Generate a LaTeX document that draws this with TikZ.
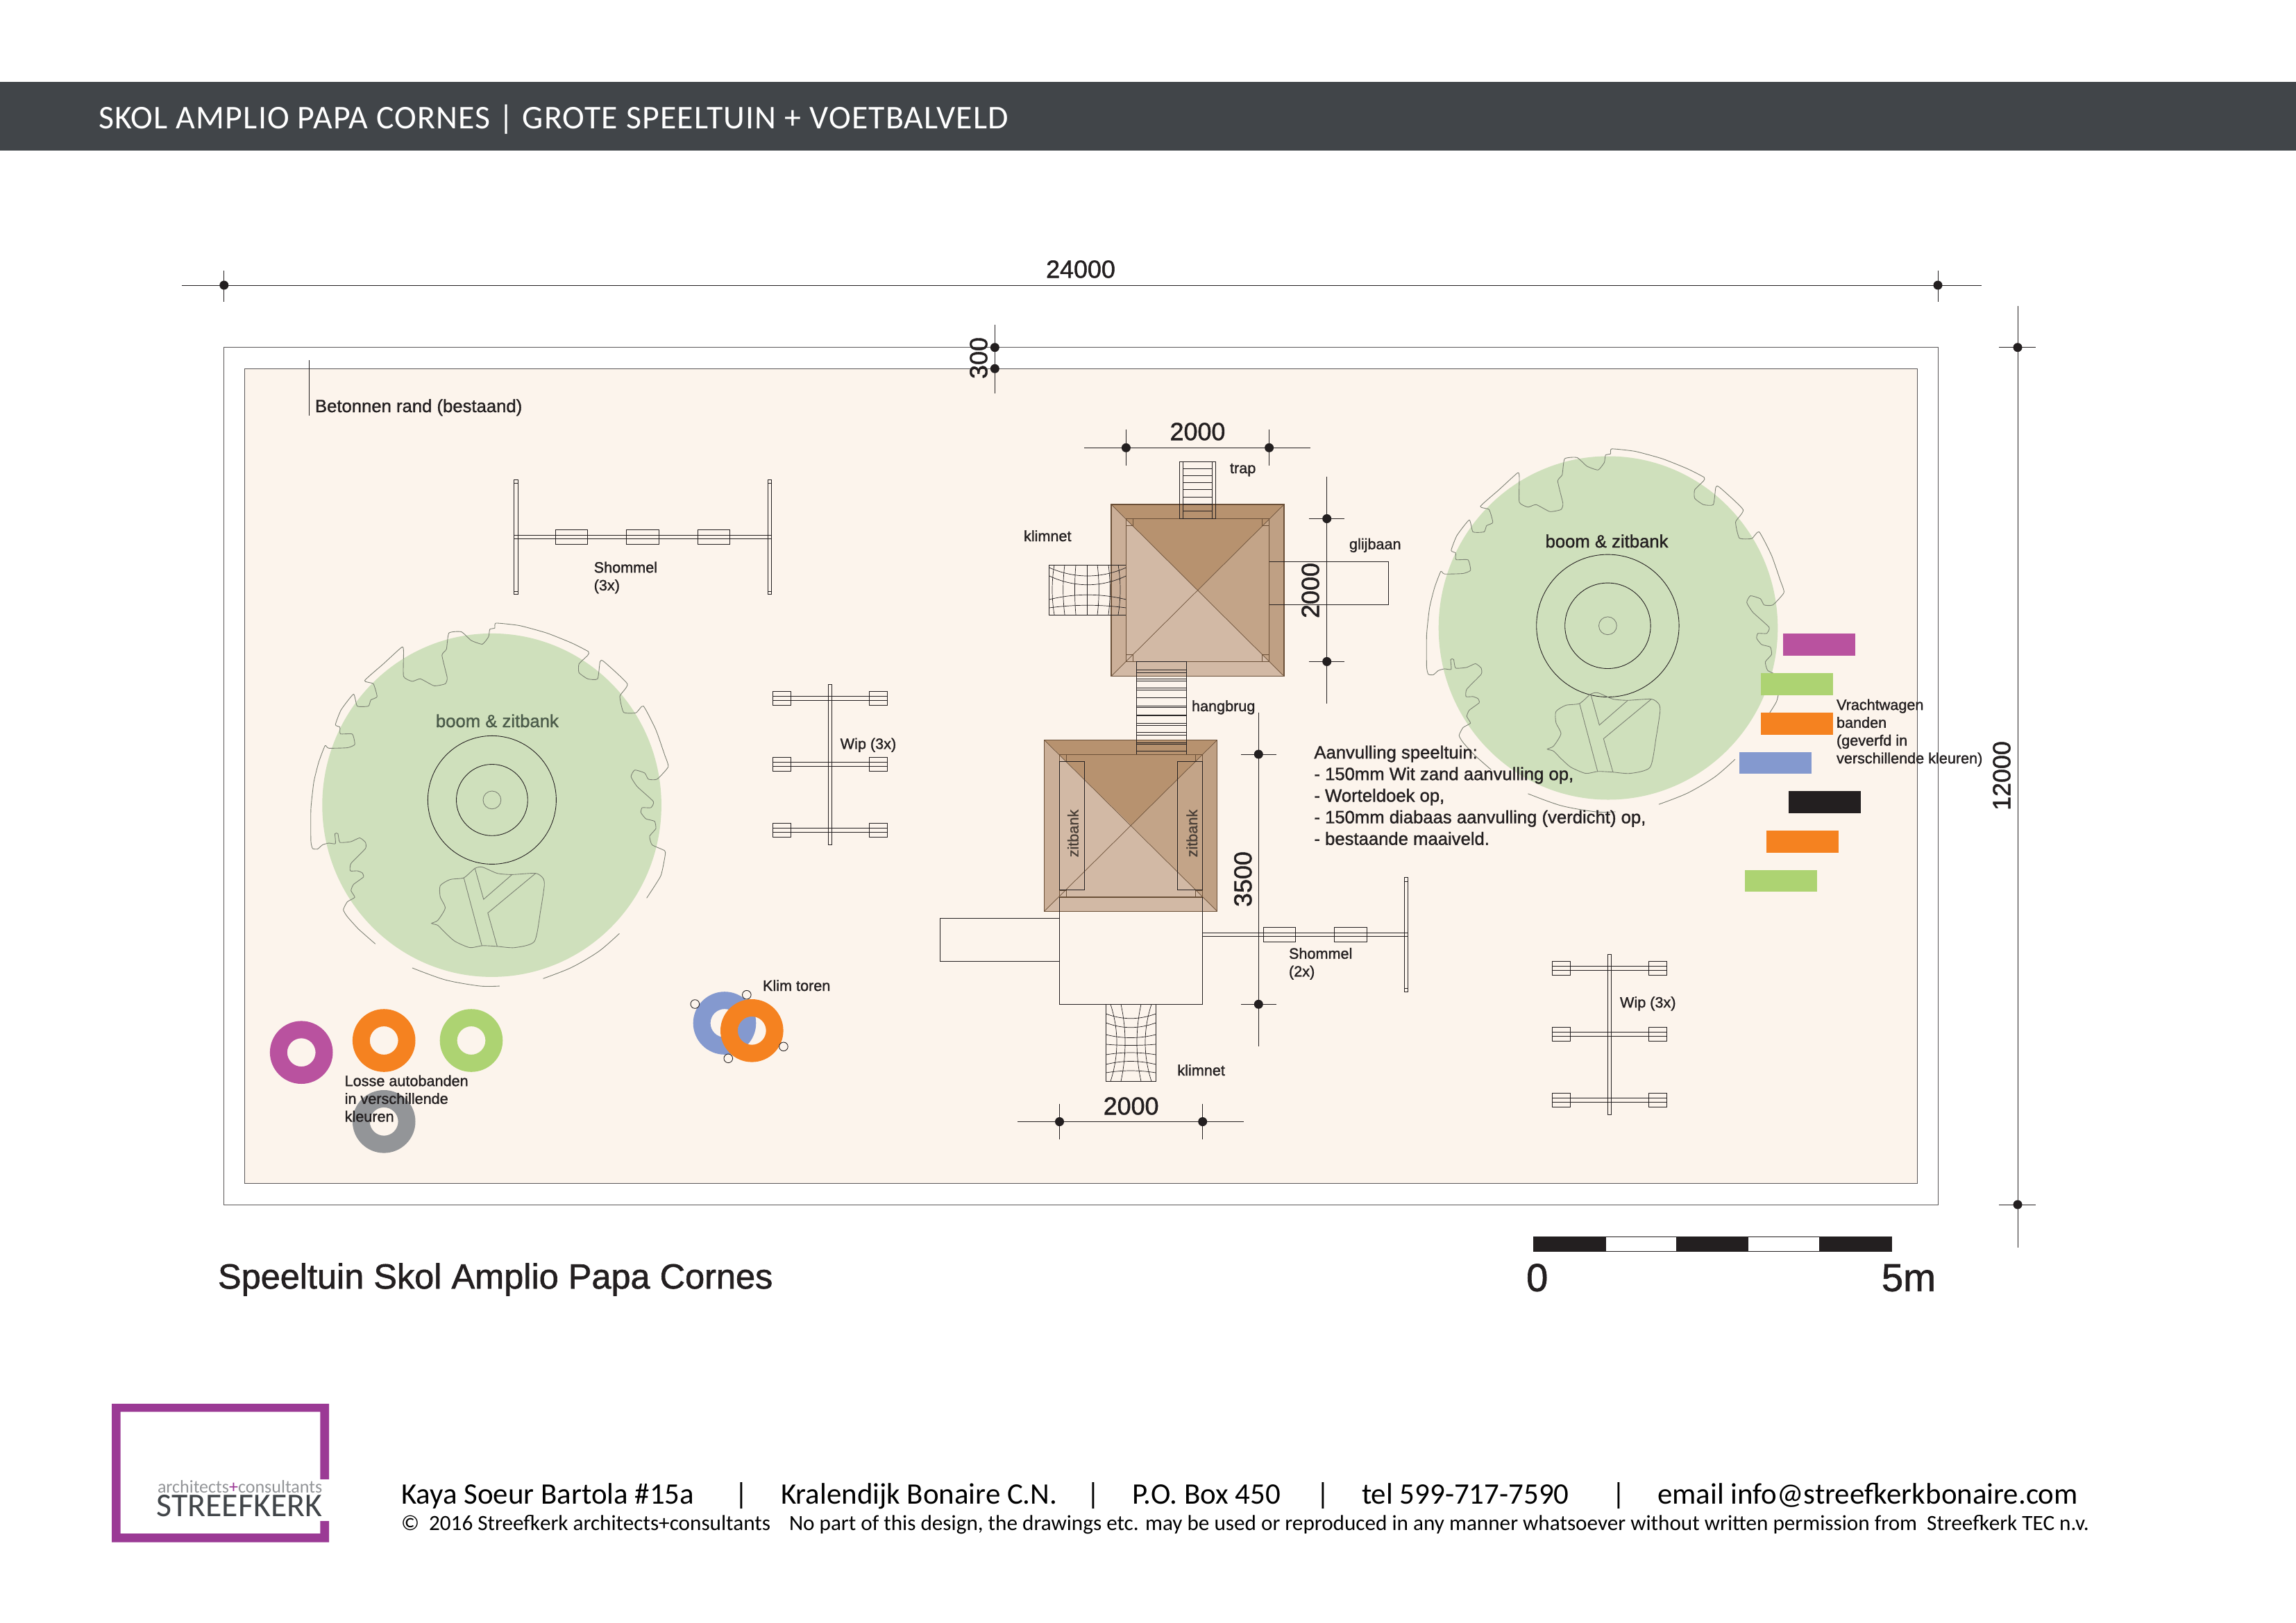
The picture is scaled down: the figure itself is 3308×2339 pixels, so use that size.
\documentclass[tikz,border=0pt]{standalone}
\usepackage{fontspec}
\setmainfont[FakeBold=1.2]{Liberation Sans}
\newfontfamily\calibrifont{Carlito}
\definecolor{balk}{HTML}{414549}
\definecolor{zand}{HTML}{FCF4EC}
\definecolor{gras}{HTML}{CFE0BC}
\definecolor{lijn}{HTML}{231F20}
\definecolor{contour}{HTML}{7B8073}
\definecolor{dakrand}{HTML}{6B5038}
\definecolor{dakdonker}{HTML}{B7926F}
\definecolor{dakmidden}{HTML}{C3A488}
\definecolor{dakrechts}{HTML}{BFA084}
\definecolor{daklicht}{HTML}{D2B9A5}
\definecolor{daklinks}{HTML}{CBAF98}
\definecolor{paars}{HTML}{B9529F}
\definecolor{oranje}{HTML}{F58220}
\definecolor{groen}{HTML}{ADD372}
\definecolor{grijs}{HTML}{939598}
\definecolor{blauw}{HTML}{8499CF}
\definecolor{logopaars}{HTML}{9B3A95}
\tikzset{
	dun/.style={draw=lijn,line width=.25pt},
	rand/.style={draw=lijn!75,line width=.2pt},
	kaal/.style={inner sep=0pt,outer sep=0pt},
	label/.style={kaal,anchor=base west,text=lijn,font=\fontsize{6.15}{7.3}\selectfont},
	maat/.style={kaal,text=lijn,font=\fontsize{10.2}{12}\selectfont},
	staand/.style={maat,rotate=90},
	voet/.style={kaal,anchor=base west,text=black,font=\calibrifont\fontsize{12.2}{14}\selectfont},
	klein/.style={kaal,anchor=base west,text=black,font=\calibrifont\fontsize{8.87}{10}\selectfont},
}
\newcommand{\boomvorm}[6]{
	\fill[gras] (#3,#4) ellipse (244.3 and 247.5);
	\draw[dun] (#1,#2) circle (#5) (#1,#2) circle (#6);
	\draw[contour,line width=.25pt] (#1,#2) circle (12.9);
	\begin{scope}[shift={(#1,#2)},scale=.357,shift={(-809,-764)},draw=contour,line width=.25pt]
		\draw plot[smooth,tension=.3] coordinates {(338,1345) (270,1285) (225,1235) (209,1207) (225,1175) (255,1157) (240,1130) (250,1105) (290,1075) (285,1058) (265,1050) (237,1050) (240,1020) (298,960) (298,935) (275,917) (240,932) (195,935) (187,900) (175,900) (177,940) (150,938) (125,945) (105,962) (85,960) (78,930) (78,800) (90,690) (110,610) (135,545) (150,555) (225,553) (255,540) (245,498) (197,497) (195,470) (177,460) (200,400) (250,337) (265,385) (310,385) (320,360) (345,347) (330,295) (295,282) (370,215) (445,147) (452,165) (452,265) (487,285) (520,275) (575,303) (620,295) (628,270) (607,180) (625,155) (635,90) (685,85) (725,120) (770,135) (795,105) (800,75) (820,70) (825,50) (920,60) (1030,90) (1130,130) (1198,165) (1195,180) (1160,215) (1160,250) (1195,275) (1235,275) (1245,205) (1260,205) (1355,295) (1325,345) (1340,410) (1390,412) (1420,385) (1470,480) (1505,580) (1520,630) (1475,680) (1440,680) (1425,655) (1385,643) (1370,670) (1395,710) (1460,770) (1450,795) (1415,795) (1410,815) (1430,840) (1465,850) (1470,880) (1445,910) (1455,945) (1505,968) (1508,985) (1490,1070) (1433,1160)};
		\draw plot[smooth] coordinates {(1323,1303) (1240,1375) (1130,1440) (1015,1485)};
		\draw plot[smooth] coordinates {(840,1515) (760,1515) (620,1490) (487,1442)};
		\draw plot[smooth cycle,tension=.4] coordinates {(565,1262) (590,1250) (620,1200) (600,1155) (600,1110) (640,1085) (695,1078) (740,1040) (770,1035) (830,1060) (890,1065) (985,1060) (1015,1080) (1020,1110) (1005,1210) (980,1335) (900,1360) (830,1355) (770,1352) (720,1360) (660,1335) (620,1300) (590,1270)};
		\draw (695,1078)--(768,1352) (740,1040)--(775,1165)--(890,1065) (985,1060)--(792,1220)--(830,1355);
	\end{scope}
}
\newcommand{\wiptoestel}[2]{
	\begin{scope}[shift={(#1,#2)}]
		\foreach \y in {0,95,190} {
			\draw[dun] (1113.3,996.3+\y) rectangle (1139.7,1016.3+\y);
			\draw[dun] (1252.3,996.3+\y) rectangle (1278.3,1016.3+\y);
			\draw[dun] (1113.3,1003.6+\y)--(1278.3,1003.6+\y) (1113.3,1009+\y)--(1278.3,1009+\y);
		}
		\draw[dun] (1193.3,986.3) rectangle (1198.7,1217.3);
	\end{scope}
}
\begin{document}
\begin{tikzpicture}[x=.01cm,y=-.01cm]
	\useasboundingbox (0,0) rectangle (3308,2339);
	\fill[white] (0,0) rectangle (3308,2339);
	\fill[balk] (0,118) rectangle (3308,217);
	\node[kaal,anchor=base west,text=white,font=\calibrifont\fontsize{13.6}{15}\selectfont\addfontfeature{LetterSpace=2.5}] (kop) at (142,185) {SKOL AMPLIO PAPA CORNES | GROTE SPEELTUIN + VOETBALVELD};
	\draw[rand] (322.8,500.7) rectangle (2792,1736);
	\draw[rand,fill=zand] (352.5,531.3) rectangle (2762,1705);
	\draw[dun] (445,519)--(445,599);
	\boomvorm{708.9}{1152.9}{708.6}{1160.4}{92.5}{51.4}
	\boomvorm{2316.4}{901.8}{2317}{905}{102.7}{61.7}
	% maatlijnen
	\draw[dun] (262,411)--(2855,411) (322.8,390)--(322.8,435) (2792,390)--(2792,435);
	\draw[dun] (1433.3,468)--(1433.3,566.7);
	\draw[dun] (2907,441)--(2907,1798) (2880,500.7)--(2933,500.7) (2880,1736)--(2933,1736);
	\draw[dun] (1562,645.3)--(1888,645.3) (1622.4,619)--(1622.4,671) (1828.6,619)--(1828.6,671);
	\draw[dun] (1911.7,687.4)--(1911.7,1013.5) (1885.7,747.5)--(1936.7,747.5) (1885.7,953.4)--(1936.7,953.4);
	\draw[dun] (1465.8,1616.5)--(1792.4,1616.5) (1526.5,1590.8)--(1526.5,1642) (1732.7,1590.8)--(1732.7,1642);
	\draw[dun] (1813.3,1026.9)--(1813.3,1507.8) (1788,1087)--(1839,1087) (1788,1447.3)--(1839,1447.3);
	% speeltoren, dak
	\foreach \xa/\xb/\xc/\xd/\ya/\yb/\yc/\yd/\mx/\my in {1601/1622.4/1828.6/1850/727/747.5/953.4/974.5/1725/851, 1504.6/1526.5/1732.7/1753.6/1066.5/1087.4/1293/1313.2/1629.6/1189.5} {
		\fill[dakdonker] (\xa,\ya)--(\xd,\ya)--(\mx,\my)--cycle;
		\fill[dakmidden] (\xd,\ya)--(\xd,\yd)--(\mx,\my)--cycle;
		\fill[daklicht] (\xa,\ya)--(\xa,\yd)--(\mx,\my)--cycle;
		\fill[daklicht] (\xa,\yd)--(\xd,\yd)--(\mx,\my)--cycle;
		\fill[daklinks] (\xa,\ya)--(\xb,\yb)--(\xb,\yc)--(\xa,\yd)--cycle;
		\fill[dakrechts] (\xd,\ya)--(\xc,\yb)--(\xc,\yc)--(\xd,\yd)--cycle;
		\draw[dakrand,line width=.3pt] (\xa,\ya) rectangle (\xd,\yd) (\xb,\yb) rectangle (\xc,\yc);
		\draw[dakrand,line width=.2pt] (\xa,\ya)--(\xd,\yd) (\xd,\ya)--(\xa,\yd);
		\foreach \p/\q/\s/\t in {\xb/\yb/1/1,\xc/\yb/-1/1,\xb/\yc/1/-1,\xc/\yc/-1/-1} \draw[dakrand,line width=.2pt] (\p,\q) rectangle +(10*\s,10*\t);
	}
	% trap
	\draw[dun] (1699.5,665) rectangle (1751.5,747.5) (1704.6,665)--(1704.6,747.5) (1746,665)--(1746,747.5);
	\foreach \y in {675,685.3,695.6,705.9,716.2,726.5,736.8} \draw[dun] (1704.6,\y)--(1746,\y);
	% hangbrug
	\draw[dun] (1637.3,953.3)--(1637.3,1087.3) (1709.3,953.3)--(1709.3,1087.3);
	\foreach \y in {953.3,965,969,978.3,981,991.7,994.3,1005,1017.7,1019.3,1030,1031.7,1042.7,1045.3,1055.7,1059.3,1070,1072.7,1082.7} \draw[dun] (1637.3,\y)--(1709.3,\y);
	% glijbanen en platform
	\draw[dun] (1828.6,809.5)--(2000.5,809.5)--(2000.5,871.5)--(1828.6,871.5);
	\draw[dun] (1526.5,1323.9)--(1354.6,1323.9)--(1354.6,1385.2)--(1526.5,1385.2);
	\draw[dun] (1526.5,1293)--(1526.5,1447.3)--(1732.7,1447.3)--(1732.7,1293);
	% zitbanken
	\draw[dun] (1526.5,1097.3) rectangle (1562.8,1282.4) (1696.4,1097.3) rectangle (1732.7,1282.4);
	% klimnetten
	\draw[dun] (1622.4,814)--(1511.7,814)--(1511.7,886)--(1622.4,886);
	\foreach \a/\b in {818/834, 830/847, 864/855, 876/871} \draw[dun,line width=.2pt] (1511.7,\a) .. controls (1548,\b) and (1586,\b) .. (1622.4,\a);
	\foreach \a/\b in {1519/1515, 1534/1531, 1550/1548, 1566/1566, 1581/1584, 1597/1600, 1611/1615} \draw[dun,line width=.2pt] (\a,814) .. controls (\b,838) and (\b,862) .. (\a,886);
	\draw[dun] (1593.4,1447.3)--(1593.4,1558.4)--(1665.3,1558.4)--(1665.3,1447.3);
	\foreach \a/\b in {1461/1470, 1474/1483, 1491/1497, 1505/1507, 1520/1516, 1534/1528, 1546/1542} \draw[dun,line width=.2pt] (1593.4,\a) .. controls (1617,\b) and (1641,\b) .. (1665.3,\a);
	\foreach \a/\b in {1600/1612, 1615/1623, 1644/1636, 1659/1647} \draw[dun,line width=.2pt] (\a,1447.3) .. controls (\b,1484) and (\b,1521) .. (\a,1558.4);
	% schommels
	\draw[dun] (740.3,771.4)--(1111.7,771.4) (740.3,776.8)--(1111.7,776.8);
	\foreach \a/\b in {740.3/746.3, 1106.3/1111.7} {
		\draw[dun] (\a,691) rectangle (\b,856.8);
		\draw[dun] (\a,696)--(\b,696) (\a,852)--(\b,852);
	}
	\foreach \a/\b in {800.3/846.3, 902.3/949.3, 1005.3/1051.3} \draw[dun] (\a,763.2) rectangle (\b,784.3);
	\draw[dun] (1732.7,1344.5)--(2028.6,1344.5) (1732.7,1349.2)--(2028.6,1349.2);
	\draw[dun] (2023.5,1264.6) rectangle (2028.6,1429.5) (2023.5,1270)--(2028.6,1270) (2023.5,1424)--(2028.6,1424);
	\foreach \a/\b in {1820.4/1866.3, 1922.4/1969.4} \draw[dun] (\a,1336.2) rectangle (\b,1357.5);
	% wippen
	\wiptoestel{0}{0}
	\wiptoestel{1123}{389}
	% autobanden
	\foreach \kl/\x/\y in {paars/434.2/1516.7, oranje/553.2/1499.5, groen/679/1499.5, grijs/553.2/1616.3, blauw/1044/1474.5, oranje/1083.3/1485.3} \fill[\kl,even odd rule] (\x,\y) circle (45.3) (\x,\y) circle (20.4);
	\foreach \x/\y in {1001.3/1447, 1075.8/1433.7, 1128.9/1508.3, 1049.3/1525.3} \draw[dun,fill=zand] (\x,\y) circle (6.3);
	% vrachtwagenbanden
	\foreach \kl/\x/\y in {paars/2569/913, groen/2537/970, oranje/2537/1027, blauw/2506/1083.5, lijn/2577/1140, oranje/2545/1197, groen/2514/1253.5} \fill[\kl] (\x,\y) rectangle +(104,31.7);
	% stippen
	\foreach \x/\y in {322.8/411, 2792/411, 1433.3/500.7, 1433.3/531.3, 2907/500.7, 2907/1736, 1622.4/645.3, 1828.6/645.3, 1911.7/747.5, 1911.7/953.4, 1526.5/1616.5, 1732.7/1616.5, 1813.3/1087, 1813.3/1447.3} \fill[lijn] (\x,\y) circle (6.5);
	% schaalstok
	\foreach \a/\b/\kl in {2209/2313/lijn, 2313/2415.5/white, 2415.5/2518.8/lijn, 2518.8/2621/white, 2621/2725/lijn} \draw[dun,fill=\kl] (\a,1782.8) rectangle (\b,1803.3);
	% teksten
	\node[maat] (maatbreed) at (1557,388) {24000};
	\node[staand] (maatrand) at (1410,516) {300};
	\node[staand] (maathoog) at (2884,1118) {12000};
	\node[maat] (maatdak) at (1725.5,622) {2000};
	\node[staand] (maatglij) at (1888,851) {2000};
	\node[maat] (maatonder) at (1629.6,1594) {2000};
	\node[staand] (maattoren) at (1790.8,1267) {3500};
	\node[label,font=\fontsize{7.3}{8.7}\selectfont] (betonrand) at (454,594) {Betonnen rand (bestaand)};
	\node[label,font=\fontsize{7.3}{8.7}\selectfont,anchor=base,text={rgb,255:red,75;green,91;blue,74}] (boomlinks) at (716.4,1048) {boom \& zitbank};
	\node[label,font=\fontsize{7.3}{8.7}\selectfont,anchor=base] (boomrechts) at (2315,789) {boom \& zitbank};
	\node[label] (trap) at (1772,682) {trap};
	\node[label] (netboven) at (1475,780) {klimnet};
	\node[label] (glijbaan) at (1944,791.5) {glijbaan};
	\node[label] (hangbrug) at (1717,1025) {hangbrug};
	\node[label] (netonder) at (1696.4,1550) {klimnet};
	\node[label,rotate=90,anchor=center,text={rgb,255:red,74;green,64;blue,56}] (banklinks) at (1546,1201) {zitbank};
	\node[label,rotate=90,anchor=center,text={rgb,255:red,74;green,64;blue,56}] (bankrechts) at (1717.3,1201) {zitbank};
	\node[label,anchor=north west,align=left] (schommeldrie) at (855.7,809.5) {Shommel\\(3x)};
	\node[label,anchor=north west,align=left] (schommeltwee) at (1857,1366) {Shommel\\(2x)};
	\node[label] (wiplinks) at (1210.7,1079.3) {Wip (3x)};
	\node[label] (wiprechts) at (2334,1452) {Wip (3x)};
	\node[label] (klimtoren) at (1099,1428) {Klim toren};
	\node[label,anchor=north west,align=left] (losse) at (496.7,1549.5) {Losse autobanden\\in verschillende\\kleuren};
	\node[label,anchor=north west,align=left] (vracht) at (2646,1007.5) {Vrachtwagen\\banden\\(geverfd in\\verschillende kleuren)};
	\node[label,anchor=north west,align=left,font=\fontsize{7.3}{8.85}\selectfont] (aanvulling) at (1893.4,1074.5) {Aanvulling speeltuin:\\- 150mm Wit zand aanvulling op,\\- Worteldoek op,\\- 150mm diabaas aanvulling (verdicht) op,\\- bestaande maaiveld.};
	\node[label,font=\fontsize{14.35}{17}\selectfont] (titel) at (314,1857) {Speeltuin Skol Amplio Papa Cornes};
	\node[label,font=\fontsize{16}{18}\selectfont,anchor=base] (nul) at (2214.7,1860.7) {0};
	\node[label,font=\fontsize{16}{18}\selectfont,anchor=base east] (vijf) at (2789,1860.7) {5m};
	% logo
	\fill[logopaars,even odd rule] (161,2023) rectangle (474,2222.7) (173.7,2034.7) rectangle (461.4,2210);
	\fill[white] (461,2132) rectangle (475,2192);
	\node[kaal,anchor=base west,text=grijs,font=\calibrifont\fontsize{7.4}{9}\selectfont] (logoboven) at (227,2151) {architects\textcolor{logopaars}{+}consultants};
	\node[kaal,anchor=base west,text=balk,font=\calibrifont\fontsize{13.6}{15}\selectfont] (logonaam) at (225.7,2185) {STREEFKERK};
	% voettekst
	\node[voet] (adres) at (578,2167) {Kaya Soeur Bartola \#15a};
	\node[voet] (streep) at (1058,2167) {|};
	\node[voet] (plaats) at (1125,2167) {Kralendijk Bonaire C.N.};
	\node[voet] (streepb) at (1565,2167) {|};
	\node[voet] (postbus) at (1631,2167) {P.O. Box 450};
	\node[voet] (streepc) at (1896,2167) {|};
	\node[voet] (telefoon) at (1962,2167) {tel 599-717-7590};
	\node[voet] (streepd) at (2322,2167) {|};
	\node[voet] (mail) at (2388,2167) {email info@streefkerkbonaire.com};
	\node[klein] (copy) at (578,2205) {©\ \ 2016 Streefkerk architects+consultants};
	\node[klein] (rechten) at (1137,2205) {No part of this design, the drawings etc. may be used or reproduced in any manner whatsoever without written permission from\ \ Streefkerk TEC n.v.};
\end{tikzpicture}
\end{document}
